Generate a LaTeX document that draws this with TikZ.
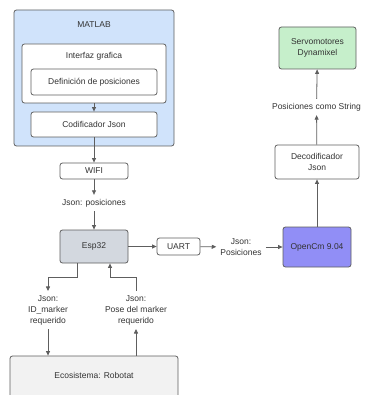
\documentclass[tikz,border=0pt]{standalone}
\usepackage{xcolor}
\usepackage{fontspec}
\setmainfont{Liberation Sans}
\usetikzlibrary{arrows.meta}

\definecolor{linegray}{HTML}{5E5E5E}
\definecolor{txtgray}{HTML}{333333}
\definecolor{matlabblue}{HTML}{D0E3FB}
\definecolor{espgray}{HTML}{D3D8DF}
\definecolor{cmviolet}{HTML}{918EF6}
\definecolor{servogreen}{HTML}{C6EFCB}
\definecolor{ecogray}{HTML}{F2F2F2}

\begin{document}
\begin{tikzpicture}[x=1pt, y=-1pt,
    every node/.style={font=\fontsize{8.5}{11}\selectfont, text=txtgray},
    blockbox/.style={draw=linegray, line width=0.8pt, rounded corners=2.5pt, fill=white, inner sep=0pt},
    flowtext/.style={align=center, inner sep=4pt},
    arr/.style={draw=linegray, line width=0.8pt, -{Triangle[length=4.5pt, width=4pt]}}]
    \useasboundingbox (0,0) rectangle (367,395);

    % Nodes
    \node (matlab) [blockbox, fill=matlabblue, minimum width=160pt, minimum height=136pt] at (94,78) {};
    \node (matlabtitle) at (94,25) {MATLAB};
    \node (interfaz) [blockbox, minimum width=144pt, minimum height=59pt] at (94,73.5) {};
    \node (interfaztitle) at (94,56) {Interfaz grafica};
    \node (defpos) [blockbox, minimum width=126pt, minimum height=26pt] at (94,82) {Definición de posiciones};
    \node (codif) [blockbox, minimum width=126pt, minimum height=25pt] at (94,124.5) {Codificador Json};
    \node (wifi) [blockbox, minimum width=68pt, minimum height=16pt] at (94,171) {WIFI};
    \node (jsonpos) [flowtext] at (94,203) {Json: posiciones};
    \node (esp) [blockbox, fill=espgray, minimum width=68pt, minimum height=33pt] at (94,246.5) {Esp32};
    \node (uart) [blockbox, minimum width=43pt, minimum height=17pt] at (178.5,246.5) {UART};
    \node (jsonposB) [flowtext] at (241,247) {Json:\\Posiciones};
    \node (opencm) [blockbox, fill=cmviolet, minimum width=68pt, minimum height=40pt] at (317,247) {OpenCm 9.04};
    \node (decod) [blockbox, align=center, minimum width=84pt, minimum height=34pt] at (317,162) {Decodificador\\Json};
    \node (poscomo) [flowtext] at (316.5,107) {Posiciones como String};
    \node (servo) [blockbox, fill=servogreen, align=center, minimum width=77pt, minimum height=42pt] at (317.5,48) {Servomotores\\Dynamixel};
    \node (idtxt) [flowtext] at (48,310) {Json:\\ID\_marker\\requerido};
    \node (posetxt) [flowtext] at (136,310) {Json:\\Pose del marker\\requerido};
    \node (eco) [blockbox, fill=ecogray, minimum width=168pt, minimum height=48pt] at (94,380) {};
    \node (ecotitle) at (94,375) {Ecosistema: Robotat};
    \coordinate (bend) at (94,277);

    % Arrows
    \draw[arr] (interfaz) -- (codif);
    \draw[arr] (codif) -- (wifi);
    \draw[arr] (wifi) -- (jsonpos);
    \draw[arr] (jsonpos) -- (esp);
    \draw[arr] (esp) -- (uart);
    \draw[arr] (uart) -- (jsonposB);
    \draw[arr] (jsonposB) -- (opencm);
    \draw[arr] (opencm) -- (decod);
    \draw[arr] (decod) -- (poscomo);
    \draw[arr] (poscomo) -- (servo);
    \draw[arr] ([xshift=-17pt]esp.south) |- (idtxt.north |- bend) -- (idtxt);
    \draw[arr] (idtxt) -- (idtxt.south |- eco.north);
    \draw[arr] (posetxt.south |- eco.north) -- (posetxt);
    \draw[arr] (posetxt.north) |- ([xshift=16pt]esp.south |- bend) -- ([xshift=16pt]esp.south);
\end{tikzpicture}
\end{document}
